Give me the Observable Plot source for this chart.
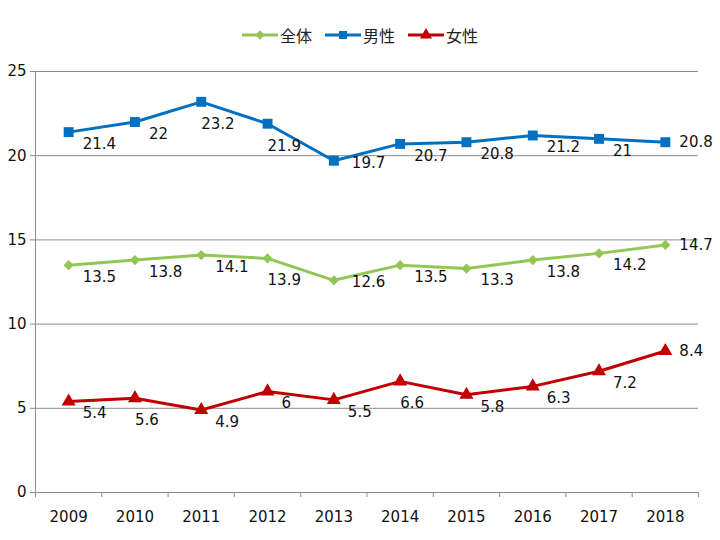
<!DOCTYPE html>
<html><head><meta charset="utf-8">
<script src="https://cdn.jsdelivr.net/npm/d3@7"></script>
<script src="https://cdn.jsdelivr.net/npm/@observablehq/plot@0.6"></script>
<style>
body{margin:0;background:#fff;}
#wrap{position:relative;width:720px;height:540px;font-family:"DejaVu Sans","Noto Sans CJK JP",sans-serif;}
#legend{position:absolute;top:23px;left:0;width:720px;display:flex;justify-content:center;gap:13px;font-family:"Noto Sans CJK JP",sans-serif;font-size:16px;color:#222;}
.item{display:flex;align-items:center;gap:2px;}
</style></head>
<body><div id="wrap"><div id="legend"></div></div>
<script>
const years = [2009,2010,2011,2012,2013,2014,2015,2016,2017,2018];
const total = [13.5,13.8,14.1,13.9,12.6,13.5,13.3,13.8,14.2,14.7];
const male  = [21.4,22,23.2,21.9,19.7,20.7,20.8,21.2,21,20.8];
const female= [5.4,5.6,4.9,6,5.5,6.6,5.8,6.3,7.2,8.4];
const seriesNames = ["全体","男性","女性"];
const yTicks = [0,5,10,15,20,25];

const colors = {"全体":"#92C755","男性":"#0070C0","女性":"#C00000"};
const symbols = {"全体":"diamond2","男性":"square","女性":"triangle"};
const radii = {"全体":4.6,"男性":5.6,"女性":5.2};
const valuesBy = {"全体":total,"男性":male,"女性":female};

// label placement rule: default right-below; below before a steep drop; level at a deep dip; right of the last point
function placeLabel(vals, i) {
  const v = vals[i], prev = vals[i-1], next = vals[i+1];
  if (next === undefined) return "right";
  if (next < v - 0.5) return "below";
  if (prev !== undefined && prev - v > 1.0 && next > v) return "level";
  return "default";
}
const offsets = {default:[14,12], below:[0,22], level:[18,2], right:[14,0]};

const data = seriesNames.flatMap(s => years.map((yr,i)=>({series:s, year:yr, value:valuesBy[s][i], place:placeLabel(valuesBy[s], i)})));
const bounds = years.map(y=>y-0.5).concat([years[years.length-1]+0.5]);
const grid = "#8c8c8c";

const marks = [
  Plot.gridY(yTicks,{stroke:grid,strokeOpacity:1,strokeWidth:1}),
  Plot.ruleX([bounds[0]],{stroke:grid,strokeWidth:1}),
  Plot.axisY(yTicks,{tickSize:5,tickPadding:4,stroke:grid,fontSize:15,fill:"#111",label:null}),
  Plot.axisX(bounds,{tickSize:5,tickFormat:()=>"",stroke:grid,label:null}),
  Plot.axisX(years,{tickSize:0,tickPadding:19,tickFormat:d=>String(d),fontSize:15,fill:"#111",label:null})
];
for (const s of seriesNames) {
  const d = data.filter(r=>r.series===s);
  marks.push(Plot.line(d,{x:"year",y:"value",stroke:colors[s],strokeWidth:3}));
  marks.push(Plot.dot(d,{x:"year",y:"value",symbol:()=>symbols[s],r:radii[s],fill:colors[s],stroke:null}));
  for (const p of Object.keys(offsets)) {
    const sub = d.filter(r=>r.place===p);
    if (!sub.length) continue;
    marks.push(Plot.text(sub,{x:"year",y:"value",text:r=>String(r.value),dx:offsets[p][0],dy:offsets[p][1],textAnchor:"start",fontSize:15,fill:"#111"}));
  }
}

const chart = Plot.plot({
  width:720,height:540,
  marginLeft:35,marginRight:22,marginTop:71,marginBottom:48,
  style:{fontFamily:"DejaVu Sans, sans-serif",background:"#fff"},
  x:{type:"linear",domain:[bounds[0],bounds[bounds.length-1]],axis:null},
  y:{domain:[0,25],axis:null},
  symbol:{type:"identity"},
  marks
});
document.getElementById("wrap").appendChild(chart);

const legend = document.getElementById("legend");
const symPaths = {
  "全体":d3.symbol(d3.symbolDiamond2, Math.PI*4.3*4.3)(),
  "男性":d3.symbol(d3.symbolSquare, Math.PI*4.5*4.5)(),
  "女性":d3.symbol(d3.symbolTriangle, Math.PI*4.5*4.5)()
};
for (const s of seriesNames) {
  const it = document.createElement("div"); it.className="item";
  it.innerHTML = `<svg width="36" height="14"><line x1="0" x2="36" y1="7" y2="7" stroke="${colors[s]}" stroke-width="3"/><path d="${symPaths[s]}" transform="translate(18,7)" fill="${colors[s]}"/></svg><span>${s}</span>`;
  legend.appendChild(it);
}
</script></body></html>
